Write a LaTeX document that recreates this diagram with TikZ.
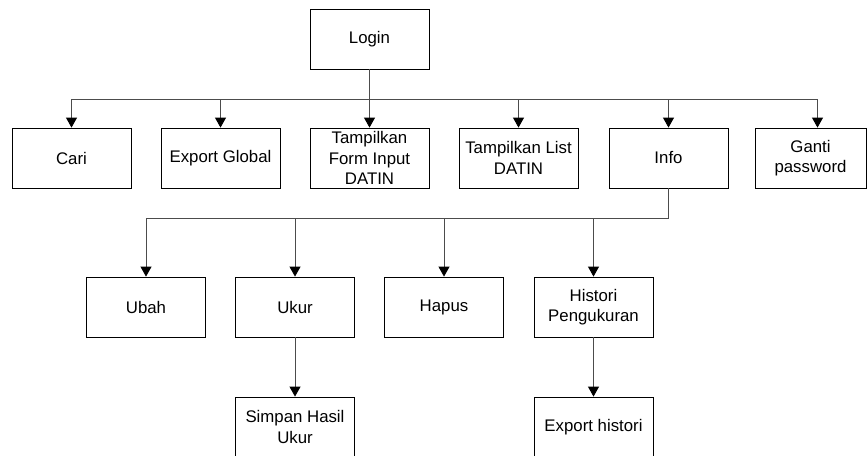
\documentclass[tikz,border=0pt]{standalone}
\usepackage{fontspec}
\setmainfont{Liberation Sans}
\usetikzlibrary{arrows.meta}
\begin{document}
\begin{tikzpicture}[x=1pt, y=-1pt]
\tikzset{box/.style={draw, line width=0.8pt, minimum width=119pt, minimum height=60pt,
  align=center, inner sep=0pt, font=\fontsize{16.8}{20.5}\selectfont}}
\tikzset{link/.style={draw=black!70, line width=0.9pt,
  -{Triangle[width=11pt, length=10pt, black]}}}
\tikzset{bar/.style={draw=black!70, line width=0.9pt}}
\useasboundingbox (0,0) rectangle (867,455);
% top
\node[box] (login) at (369.5,39) {Login};
% first level
\node[box] (cari) at (71.5,158) {Cari};
\node[box] (export) at (220.5,158) {Export Global};
\node[box] (form) at (369.5,158) {Tampilkan\\Form Input\\DATIN};
\node[box] (list) at (518.5,158) {Tampilkan List\\DATIN};
\node[box] (info) at (668.5,158) {Info};
\node[box, minimum width=111pt] (ganti) at (810.5,158) {Ganti\\password};
% second level
\node[box] (ubah) at (146,307) {Ubah};
\node[box] (ukur) at (295,307) {Ukur};
\node[box] (hapus) at (444,307) {Hapus};
\node[box] (histori) at (593.5,307) {Histori\\Pengukuran};
% third level
\node[box] (simpan) at (295,427) {Simpan Hasil\\Ukur};
\node[box] (exphist) at (593.5,427) {Export histori};
% connectors
\foreach \n in {cari,export,form,list,info}
  \draw[link] (login.south) -- ++(0,29.7) -| (\n.north);
\draw[link] (login.south) -- ++(0,29.7) -| ([xshift=7pt]ganti.north);
\foreach \n in {ubah,ukur,hapus,histori}
  \draw[link] (info.south) -- ++(0,29.7) -| (\n.north);
\draw[link] (ukur) -- (simpan);
\draw[link] (histori) -- (exphist);
\end{tikzpicture}
\end{document}
